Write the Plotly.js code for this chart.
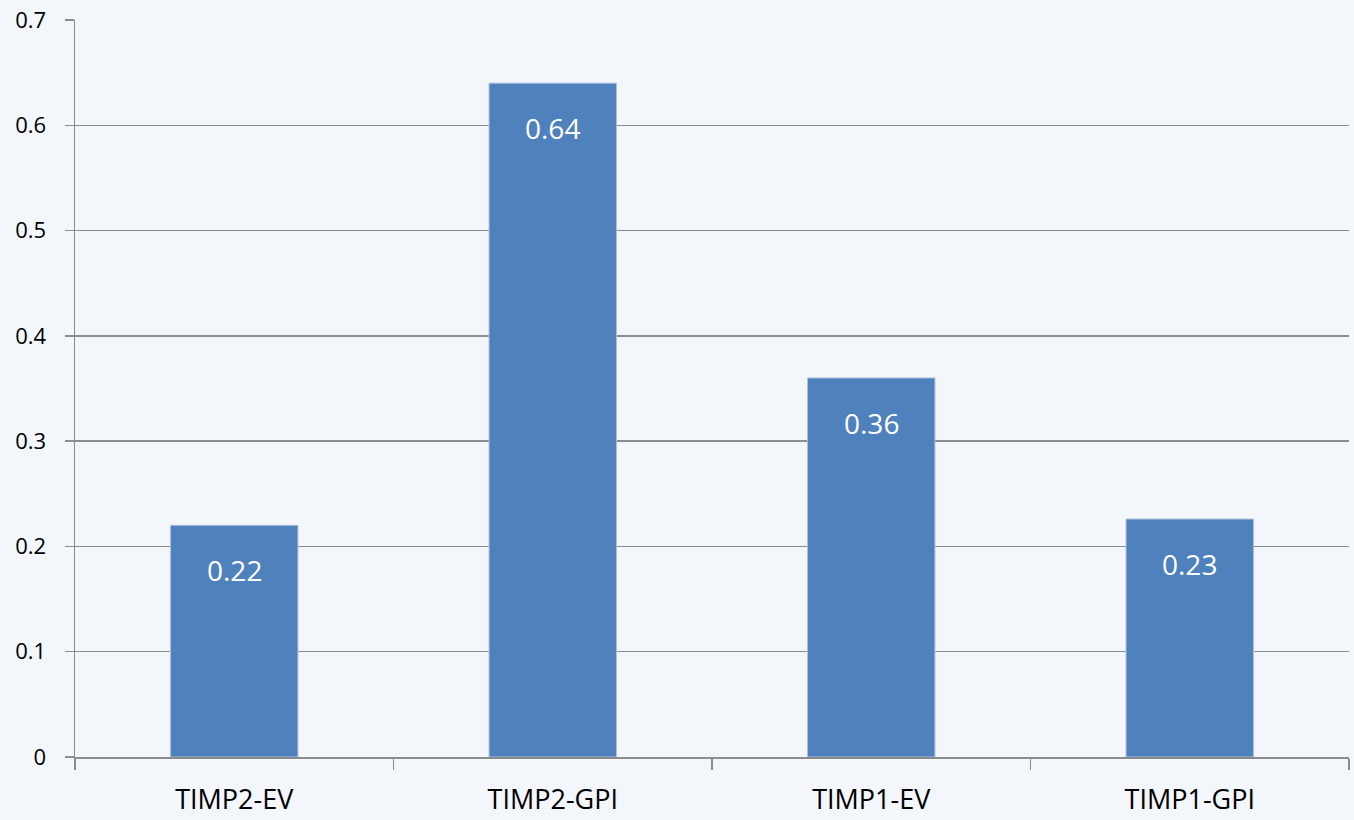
<!DOCTYPE html>
<html>
<head>
<meta charset="utf-8">
<script src="https://cdn.plot.ly/plotly-3.0.1.min.js"></script>
<style>
  html, body { margin: 0; padding: 0; background: #F3F6FA; }
  #chart { width: 1354px; height: 820px; }
</style>
</head>
<body>
<div id="chart"></div>
<script>
// Sample groups and their measured values
const categories = ['TIMP2-EV', 'TIMP2-GPI', 'TIMP1-EV', 'TIMP1-GPI'];
const values = [0.22, 0.64, 0.36, 0.226];

const barColor = '#4F81BD';
const axisGray = '#8C8C8C';
const fontFamily = '"Open Sans", "Noto Sans", sans-serif';

const trace = {
  type: 'bar',
  x: categories,
  y: values,
  marker: { color: barColor, line: { color: '#A9C0DE', width: 1 } },
  hoverinfo: 'x+y'
};

// Value labels placed inside each bar, just below its top
const labels = categories.map((c, i) => ({
  x: c,
  y: values[i],
  xref: 'x',
  yref: 'y',
  text: values[i].toFixed(2),
  showarrow: false,
  yanchor: 'middle',
  yshift: -45,
  font: { family: fontFamily, size: 28, color: '#FFFFFF' }
}));

const layout = {
  width: 1354,
  height: 820,
  paper_bgcolor: '#F3F6FA',
  plot_bgcolor: '#F3F6FA',
  margin: { l: 75, r: 5, t: 20, b: 63 },
  showlegend: false,
  bargap: 0.6,
  font: { family: fontFamily, color: '#000000' },
  xaxis: {
    type: 'category',
    tickson: 'boundaries',
    ticks: 'outside',
    ticklen: 11,
    tickwidth: 1.5,
    tickcolor: axisGray,
    showline: true,
    linecolor: axisGray,
    linewidth: 1.5,
    showgrid: false,
    tickfont: { family: fontFamily, size: 27, color: '#000000' },
    ticklabelstandoff: 18
  },
  yaxis: {
    range: [0, 0.7],
    dtick: 0.1,
    tick0: 0,
    ticks: 'outside',
    ticklen: 9,
    tickwidth: 1.5,
    tickcolor: axisGray,
    showline: true,
    linecolor: axisGray,
    linewidth: 1.5,
    showgrid: true,
    gridcolor: axisGray,
    gridwidth: 1.5,
    zeroline: false,
    tickfont: { family: fontFamily, size: 22, color: '#000000' },
    ticklabelstandoff: 14
  },
  annotations: labels
};

Plotly.newPlot('chart', [trace], layout, { displayModeBar: false, staticPlot: true });
</script>
</body>
</html>
